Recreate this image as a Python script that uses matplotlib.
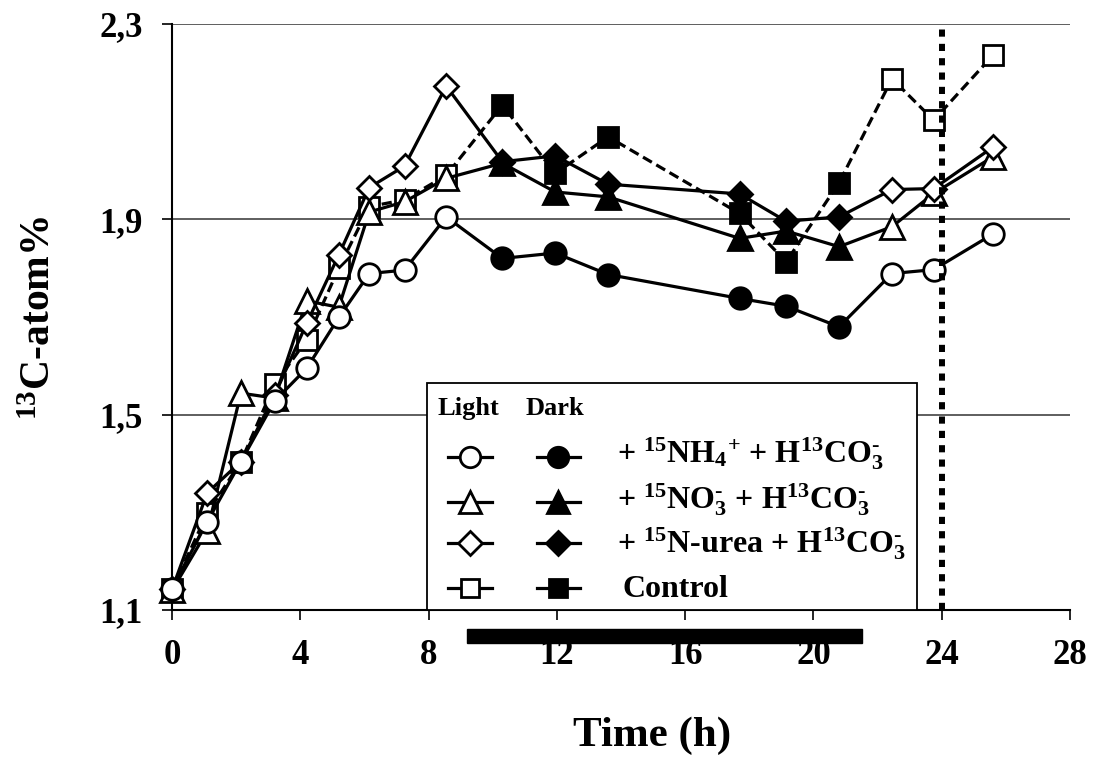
import numpy as np
import matplotlib
matplotlib.use("Agg")
import matplotlib.pyplot as plt
from matplotlib.patches import Rectangle
from matplotlib.lines import Line2D
from matplotlib.transforms import Affine2D

plt.rcParams['font.family'] = ['Liberation Serif', 'DejaVu Serif']
plt.rcParams['font.weight'] = 'bold'
plt.rcParams['mathtext.fontset'] = 'custom'
plt.rcParams['mathtext.rm'] = 'Liberation Serif:bold'
plt.rcParams['mathtext.it'] = 'Liberation Serif:italic:bold'
plt.rcParams['mathtext.bf'] = 'Liberation Serif:bold'

# ---------------- data ----------------
time_h = [0, 1.1, 2.15, 3.2, 4.2, 5.2, 6.15, 7.25, 8.55, 10.3, 11.95, 13.6,
          17.7, 19.15, 20.8, 22.45, 23.75, 25.6]
is_dark = [False] * 9 + [True] * 6 + [False] * 3

nh4 = [1.144, 1.281, 1.404, 1.528, 1.595, 1.699, 1.789, 1.796, 1.905, 1.820,
       1.831, 1.787, 1.738, 1.722, 1.680, 1.789, 1.797, 1.870]
no3 = [1.140, 1.262, 1.544, 1.534, 1.733, 1.720, 1.915, 1.936, 1.984, 2.015,
       1.956, 1.946, 1.861, 1.876, 1.844, 1.885, 1.953, 2.028]
urea = [1.142, 1.340, 1.404, 1.540, 1.687, 1.827, 1.965, 2.009, 2.173, 2.018,
        2.030, 1.972, 1.952, 1.896, 1.905, 1.961, 1.963, 2.048]
control = [1.142, 1.298, 1.404, 1.562, 1.653, 1.800, 1.926, 1.940, 1.990, 2.134,
           1.994, 2.069, 1.912, 1.813, 1.975, 2.188, 2.103, 2.236]

xticks = [0, 4, 8, 12, 16, 20, 24, 28]
yticks = [1.1, 1.5, 1.9, 2.3]
ytick_labels = ["1,1", "1,5", "1,9", "2,3"]
dark_period = (9.2, 21.5)
sampling_end = 24

HY = r"\text{-}"
legend_labels = [
    r"+ $\mathregular{^{15}}$NH$\mathregular{_4{}^{+}}$ + H$\mathregular{^{13}}$CO$\mathregular{_3^{" + HY + "}}$",
    r"+ $\mathregular{^{15}}$NO$\mathregular{_3^{" + HY + r"}}$ + H$\mathregular{^{13}}$CO$\mathregular{_3^{" + HY + "}}$",
    r"+ $\mathregular{^{15}}$N-urea + H$\mathregular{^{13}}$CO$\mathregular{_3^{" + HY + "}}$",
    "Control",
]

# ---------------- figure ----------------
W, H = 1095, 757
fig = plt.figure(figsize=(W / 100, H / 100), dpi=100)
ax = fig.add_axes([172 / W, 1 - 610 / H, 898 / W, 586 / H])
ax.set_xlim(0, 28)
ax.set_ylim(1.1, 2.3)
ax.set_xticks(xticks)
ax.set_yticks(yticks)
ax.set_yticklabels(ytick_labels)
for s in ['top', 'right']:
    ax.spines[s].set_visible(False)
for s in ['left', 'bottom']:
    ax.spines[s].set_linewidth(1.5)
ax.tick_params(direction='out', length=7, width=1.2, labelsize=25, pad=14)
for lab in ax.get_xticklabels() + ax.get_yticklabels():
    lab.set_fontweight('bold')
ax.yaxis.grid(True, color='#333333', lw=1.1)
ax.set_axisbelow(True)

t = np.array(time_h)
dark = np.array(is_dark)
styles = {
    'control': (control, 's', 14, (0, (3.2, 1.6))),
    'no3': (no3, '^', 17, '-'),
    'urea': (urea, 'D', 12.5, '-'),
    'nh4': (nh4, 'o', 15.5, '-'),
}
draw_order = ['control', 'no3', 'urea', 'nh4']
for i, key in enumerate(draw_order):
    vals, m, ms, ls = styles[key]
    v = np.array(vals)
    z = 3 + i
    ax.plot(t, v, color='black', lw=2.3, ls=ls, zorder=z, clip_on=False)
    ax.plot(t[~dark], v[~dark], ls='none', marker=m, ms=ms, mfc='white',
            mec='black', mew=2, zorder=z + 0.1, clip_on=False)
    ax.plot(t[dark], v[dark], ls='none', marker=m, ms=ms, mfc='black',
            mec='black', mew=2, zorder=z + 0.1, clip_on=False)

ax.axvline(sampling_end, color='black', lw=4.3, ls=(0, (1.2, 1.2)), zorder=10)

ax.add_patch(Rectangle((dark_period[0], -0.0563), dark_period[1] - dark_period[0],
                       0.0239, transform=ax.get_xaxis_transform(),
                       color='black', clip_on=False, zorder=10))

fig.text(652 / W, 1 - 736 / H, 'Time (h)', ha='center', va='center',
         fontsize=31, fontweight='bold')
fig.text(40 / W, 1 - 318 / H, r'$\mathregular{^{13}}$C-atom%', rotation=90,
         ha='center', va='center', fontsize=30, fontweight='bold')

# ---------------- legend (manual) ----------------
px = Affine2D().scale(1 / W, -1 / H).translate(0, 1) + fig.transFigure
box = Rectangle((427, 383), 490, 227, transform=px, facecolor='white',
                edgecolor='black', lw=1.3, zorder=20)
fig.add_artist(box)
fig.text(437, 415, 'Light', transform=px, fontsize=19, fontweight='bold',
         va='baseline', ha='left', zorder=21)
fig.text(526, 415, 'Dark', transform=px, fontsize=19, fontweight='bold',
         va='baseline', ha='left', zorder=21)
legend_order = ['nh4', 'no3', 'urea', 'control']
row_y = [457, 502, 543, 588]
base_y = [463, 508, 553, 597]
text_x = [617, 617, 617, 622]
for key, ry, by, tx, lab in zip(legend_order, row_y, base_y, text_x, legend_labels):
    vals, m, ms, ls = styles[key]
    for cx, x0, x1, fc in [(470, 448, 492, 'white'), (558, 537, 580, 'black')]:
        fig.add_artist(Line2D([x0, x1], [ry, ry], transform=px, color='black',
                              lw=2.3, zorder=21))
        fig.add_artist(Line2D([cx], [ry], transform=px, ls='none', marker=m,
                              ms=ms * 0.95, mfc=fc, mec='black', mew=2, zorder=22))
    fig.text(tx, by, lab, transform=px, fontsize=23, fontweight='bold',
             va='baseline', ha='left', zorder=21)

fig.savefig('out.png', dpi=100)
